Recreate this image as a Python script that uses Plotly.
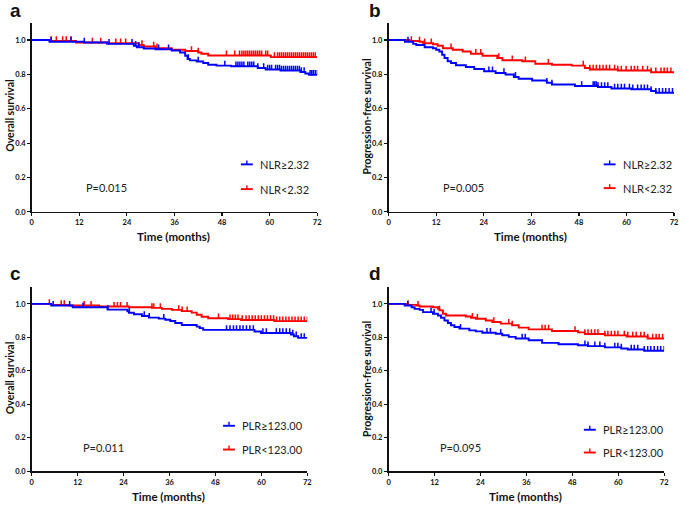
import numpy as np
import plotly.graph_objects as go

# ---------------- data ----------------
# Panel a: overall survival by NLR
a_hi_t = [0, 4.5, 13.25, 19, 25.75, 26.5, 28.25, 31.2, 35.3, 37.4, 38.7, 39.3, 39.9, 41.6, 43.25, 44.5, 46.6, 50.3, 57, 59, 62.75, 67.75, 69, 69.9]
a_hi_s = [1.0, 0.990, 0.985, 0.977, 0.966, 0.958, 0.950, 0.946, 0.939, 0.927, 0.908, 0.889, 0.881, 0.875, 0.866, 0.856, 0.851, 0.847, 0.837, 0.828, 0.822, 0.814, 0.805, 0.797]
a_hi_c = [4.9, 9.9, 13.25, 19.5, 25.3, 26.2, 27, 32, 34.5, 39.5, 42, 48.7, 51.5, 52, 52.5, 53, 53.5, 54.5, 55, 55.5, 56, 57, 58.5, 59.5, 60, 60.5, 61.5, 62, 62.5, 63, 63.5, 64, 64.5, 65, 65.5, 66, 66.5, 67, 67.5, 68, 68.7, 70.2, 70.6, 71, 71.5, 72]
a_lo_t = [0, 4.5, 11.2, 19.5, 27, 28.25, 31.2, 35.3, 38.7, 42, 42.8, 44.5, 60.3]
a_lo_s = [1.0, 0.994, 0.985, 0.981, 0.971, 0.962, 0.952, 0.943, 0.936, 0.927, 0.920, 0.910, 0.900]
a_lo_c = [4.9, 6.2, 7.8, 8.7, 9.9, 15.3, 17.4, 21.2, 22.4, 23.7, 27.8, 30.75, 31.6, 40.3, 42, 49.1, 51.2, 52.4, 53, 53.5, 54, 54.5, 55, 55.5, 56, 56.5, 57, 57.5, 58, 59, 59.5, 61.2, 62, 62.5, 63, 63.5, 64, 64.5, 65, 65.5, 66, 66.5, 67, 67.5, 68, 68.5, 69, 69.5, 70, 70.5, 71, 71.5]

# Panel b: progression-free survival by NLR
b_hi_t = [0, 4.1, 6.2, 7, 9.1, 11.2, 12, 12.8, 13.5, 14.1, 14.9, 15.75, 17, 19.5, 21.6, 24.1, 27, 29.5, 31.6, 32.8, 36.2, 39.9, 41.2, 47, 52.8, 56.2, 61.2, 66.2, 67.4]
b_hi_s = [1.0, 0.990, 0.977, 0.971, 0.958, 0.952, 0.943, 0.933, 0.914, 0.895, 0.876, 0.866, 0.853, 0.843, 0.831, 0.818, 0.808, 0.799, 0.785, 0.774, 0.764, 0.751, 0.741, 0.732, 0.726, 0.718, 0.713, 0.703, 0.693]
b_hi_c = [4.9, 25.3, 26.2, 29.1, 32, 39.9, 41.2, 48.7, 51.6, 52, 52.4, 52.8, 53.7, 54.5, 55.3, 57, 57.8, 58.7, 59.5, 60.75, 61.6, 62.8, 63.7, 64.5, 65.3, 66.2, 67.4, 68.25, 69.1, 69.9, 70.75, 71.6]
b_lo_t = [0, 5.3, 7.8, 8.7, 11.2, 12.4, 13.7, 16.2, 18.7, 20.75, 23.7, 27.4, 28.7, 33.7, 37, 41.2, 46.2, 49.5, 50.75, 57.8, 66.2]
b_lo_s = [1.0, 0.994, 0.990, 0.981, 0.975, 0.966, 0.952, 0.943, 0.933, 0.920, 0.908, 0.895, 0.882, 0.876, 0.862, 0.856, 0.851, 0.837, 0.828, 0.822, 0.812]
b_lo_c = [5.75, 7.8, 9.1, 10.75, 15.75, 22, 23.25, 27.8, 31.2, 34.5, 40.3, 49.1, 50.75, 51.6, 52.4, 53.25, 54.1, 54.9, 55.75, 57, 57.8, 58.7, 59.9, 61.2, 62, 62.8, 64.1, 65.3, 66.2, 67.4, 68.7, 69.5, 70.3, 71.2]

# Panel c: overall survival by PLR
c_hi_t = [0, 5.1, 10.7, 19.8, 25, 25.4, 26.7, 28.8, 30.6, 33.2, 34.9, 36.2, 37.5, 39.2, 43.1, 43.9, 44.8, 58.2, 59.9, 67.7, 68.5, 69.6]
c_hi_s = [1.0, 0.990, 0.980, 0.966, 0.956, 0.947, 0.938, 0.928, 0.918, 0.912, 0.905, 0.898, 0.886, 0.874, 0.864, 0.855, 0.845, 0.835, 0.826, 0.817, 0.807, 0.797]
c_hi_c = [5.6, 9.9, 13.4, 19.9, 25.5, 29.4, 30.7, 34.5, 50.9, 51.8, 52.7, 53.5, 54.4, 55.2, 56.1, 57, 57.9, 60.4, 61.3, 63.9, 64.8, 65.6, 66.5, 67.4, 68.2, 69.1, 70.4, 71.2]
c_lo_t = [0, 5.1, 9.8, 17.6, 25.4, 31.4, 34, 36.6, 39.2, 41.8, 43.1, 44.4, 46.1, 51.3, 54.7, 63.4]
c_lo_s = [1.0, 0.994, 0.990, 0.984, 0.980, 0.976, 0.970, 0.964, 0.957, 0.948, 0.935, 0.923, 0.914, 0.909, 0.904, 0.897]
c_lo_c = [4.6, 7.7, 8.5, 13.7, 15.5, 21.5, 22.4, 23.2, 24.9, 31.4, 31.9, 33.6, 38.4, 39.3, 40.6, 48.8, 51.8, 52.5, 53.2, 53.9, 55, 56, 56.8, 57.6, 58.4, 59.2, 60, 60.8, 61.6, 62.4, 63.2, 64, 64.8, 65.6, 66.4, 67.2, 68, 68.8, 69.6, 70.4, 71.2, 72]

# Panel d: progression-free survival by PLR
d_hi_t = [0, 4.2, 6.0, 6.8, 8.1, 9.0, 11.6, 12.9, 13.7, 14.6, 15.5, 16.3, 17.2, 18.5, 21.1, 22.8, 24.5, 28, 29.7, 31.4, 33.2, 36.6, 40.1, 44.4, 49.5, 52.1, 56.5, 60.8, 62.5, 66.8]
d_hi_s = [1.0, 0.990, 0.980, 0.970, 0.964, 0.951, 0.941, 0.931, 0.917, 0.901, 0.886, 0.872, 0.862, 0.852, 0.842, 0.836, 0.828, 0.822, 0.813, 0.803, 0.793, 0.783, 0.767, 0.759, 0.753, 0.748, 0.740, 0.734, 0.728, 0.720]
d_hi_c = [5.0, 11.1, 11.9, 18.8, 25.7, 26.6, 29.3, 34.9, 35.7, 51.3, 52.1, 53.9, 55.2, 56.5, 59.1, 59.9, 60.8, 63.4, 64.2, 65.1, 66.8, 67.7, 68.5, 69.4, 70.3, 71.1, 72]
d_lo_t = [0, 4.7, 7.3, 8.1, 11.6, 12.9, 13.3, 14.2, 15, 20.2, 21.5, 22.8, 25.4, 27.1, 29.3, 32.3, 34, 36.6, 42.7, 49.5, 51.3, 56.5, 62.2, 67.7]
d_lo_s = [1.0, 0.994, 0.990, 0.984, 0.980, 0.970, 0.961, 0.941, 0.931, 0.925, 0.917, 0.911, 0.901, 0.892, 0.882, 0.872, 0.858, 0.848, 0.838, 0.830, 0.820, 0.812, 0.805, 0.793]
d_lo_c = [5.1, 7.7, 13.3, 21.9, 23.2, 27.5, 31.4, 32.3, 40.1, 40.9, 41.8, 48.7, 51.3, 52.1, 53, 53.9, 54.7, 56.5, 57.3, 58.2, 59.1, 59.9, 61.6, 62.5, 63.8, 64.7, 65.9, 66.8, 67.7, 69, 69.9, 70.7, 71.6]

panel_letters = ["a", "b", "c", "d"]
y_titles = ["Overall survival", "Progression-free survival", "Overall survival", "Progression-free survival"]
x_title = "Time (months)"
legend_hi = ["NLR≥2.32", "NLR≥2.32", "PLR≥123.00", "PLR≥123.00"]
legend_lo = ["NLR<2.32", "NLR<2.32", "PLR<123.00", "PLR<123.00"]
p_values = ["P=0.015", "P=0.005", "P=0.011", "P=0.095"]
x_ticks = [0, 12, 24, 36, 48, 60, 72]
y_ticks = [0.0, 0.2, 0.4, 0.6, 0.8, 1.0]

panels = [
    (a_hi_t, a_hi_s, a_hi_c, a_lo_t, a_lo_s, a_lo_c),
    (b_hi_t, b_hi_s, b_hi_c, b_lo_t, b_lo_s, b_lo_c),
    (c_hi_t, c_hi_s, c_hi_c, c_lo_t, c_lo_s, c_lo_c),
    (d_hi_t, d_hi_s, d_hi_c, d_lo_t, d_lo_s, d_lo_c),
]

# ---------------- layout geometry (pixels) ----------------
W, H = 685, 509
BLUE = "#0000FF"
RED = "#FF0000"
FONT = "Lato"

# plot areas: (x0, x1, y_bottom, y_top) in pixels
areas = [(30, 318, 214, 23), (390, 678, 214, 23), (30, 308, 476, 290), (390, 668, 476, 290)]
letter_pos = [(14, 11), (376, 11), (14, 276), (376, 276)]
ytitle_pos = [(8, 117), (368, 118), (8, 382), (368, 383)]
xtitle_pos = [(173, 239), (533, 239), (168, 501), (528, 501)]
leg_pos = [(241, 166, 191), (607, 166, 190), (223, 430, 454), (587, 434, 457)]
p_pos = [(83, 189), (443, 189), (80, 452), (440, 452)]


def px(x):
    return x / W


def py(y):
    return 1 - y / H


def surv_at(t, s, c):
    t = np.asarray(t)
    s = np.asarray(s)
    idx = np.searchsorted(t, np.asarray(c), side="right") - 1
    return s[idx]


fig = go.Figure()
layout = dict(
    width=W, height=H, margin=dict(l=0, r=0, t=0, b=0),
    paper_bgcolor="white", plot_bgcolor="white", showlegend=False,
    font=dict(family=FONT, color="#222222"),
)
annotations = []
shapes = []

for i, (ht, hs, hc, lt, ls, lc) in enumerate(panels):
    n = "" if i == 0 else str(i + 1)
    xa, ya = "x" + n, "y" + n
    x0, x1, yb, yt = areas[i]
    axis_common = dict(
        showline=True, linecolor="#111111", linewidth=1.6, showgrid=False, zeroline=False,
        ticks="outside", ticklen=3, tickwidth=1.2, tickcolor="#111111",
        tickfont=dict(family=FONT, size=7.5, color="#111111", weight="bold"),
        fixedrange=True,
    )
    layout["xaxis" + n] = dict(axis_common, domain=[px(x0), px(x1)], range=[0, 72],
                               tickvals=x_ticks, anchor=ya)
    layout["yaxis" + n] = dict(axis_common, domain=[py(yb), py(yt)], range=[0, 1.1],
                               tickvals=y_ticks, tickformat=".1f", anchor=xa)

    for t, s, c, col in ((lt, ls, lc, RED), (ht, hs, hc, BLUE)):
        fig.add_trace(go.Scatter(
            x=list(t) + [72], y=list(s) + [s[-1]], mode="lines",
            line=dict(color=col, width=1.9, shape="hv"), xaxis=xa, yaxis=ya,
            hoverinfo="skip", cliponaxis=False))
        fig.add_trace(go.Scatter(
            x=c, y=surv_at(t, s, c), mode="markers",
            marker=dict(size=1, color=col, opacity=0),
            error_y=dict(type="constant", symmetric=False, value=0.028, valueminus=0,
                         width=0, thickness=1.5, color=col),
            xaxis=xa, yaxis=ya, hoverinfo="skip", cliponaxis=False))

    # panel letter
    lx, ly = letter_pos[i]
    annotations.append(dict(x=px(lx), y=py(ly), xref="paper", yref="paper", text=panel_letters[i],
                            showarrow=False, xanchor="center", yanchor="middle",
                            font=dict(family="Liberation Sans", size=19, color="#111111", weight="bold")))
    # axis titles
    tx, ty = ytitle_pos[i]
    annotations.append(dict(x=px(tx), y=py(ty), xref="paper", yref="paper", text=y_titles[i],
                            showarrow=False, textangle=-90, xanchor="center", yanchor="middle",
                            font=dict(family=FONT, size=10.5, color="#111111", weight="bold")))
    tx, ty = xtitle_pos[i]
    annotations.append(dict(x=px(tx), y=py(ty), xref="paper", yref="paper", text=x_title,
                            showarrow=False, xanchor="center", yanchor="middle",
                            font=dict(family=FONT, size=11.5, color="#111111", weight="bold")))
    # legend
    gx, gyb, gyr = leg_pos[i]
    for gy, col, label in ((gyb, BLUE, legend_hi[i]), (gyr, RED, legend_lo[i])):
        shapes.append(dict(type="line", xref="paper", yref="paper", x0=px(gx), x1=px(gx + 12),
                           y0=py(gy), y1=py(gy), line=dict(color=col, width=1.9)))
        shapes.append(dict(type="line", xref="paper", yref="paper", x0=px(gx + 6), x1=px(gx + 6),
                           y0=py(gy), y1=py(gy - 4), line=dict(color=col, width=1.4)))
        annotations.append(dict(x=px(gx + 17), y=py(gy), xref="paper", yref="paper", text=label,
                                showarrow=False, xanchor="left", yanchor="middle",
                                font=dict(family=FONT, size=11, color="#222222")))
    # p value
    qx, qy = p_pos[i]
    annotations.append(dict(x=px(qx), y=py(qy), xref="paper", yref="paper", text=p_values[i],
                            showarrow=False, xanchor="left", yanchor="middle",
                            font=dict(family=FONT, size=11, color="#222222")))

layout["annotations"] = annotations
layout["shapes"] = shapes
fig.update_layout(**layout)
fig.write_html("out.html", config={"displayModeBar": False, "staticPlot": True},
               post_script="document.body.style.margin='0';document.body.style.overflow='hidden';")
